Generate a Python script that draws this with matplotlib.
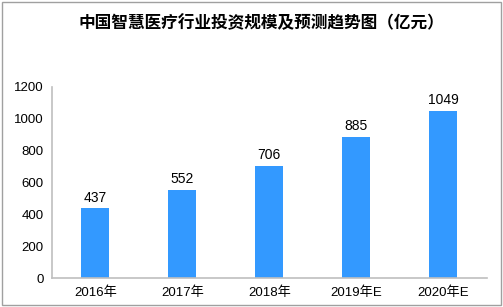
"""China smart healthcare investment bar chart."""
import matplotlib
matplotlib.use("Agg")
import matplotlib.pyplot as plt
from matplotlib.patches import Rectangle

years = ["2016年", "2017年", "2018年", "2019年E", "2020年E"]
invest = [437, 552, 706, 885, 1049]

plt.rcParams["font.family"] = ["Liberation Sans", "Noto Sans CJK SC", "DejaVu Sans"]

fig = plt.figure(figsize=(5.03, 3.07), dpi=100)
ax = fig.add_axes([0.103, 0.094, 0.865, 0.623])

x = range(len(years))
ax.bar(x, invest, width=0.32, color="#3399ff")
for xi, v in zip(x, invest):
    ax.text(xi, v + 25, str(v), ha="center", va="bottom", fontsize=10)

ax.set_xlim(-0.5, len(years) - 0.5)
ax.set_ylim(0, 1200)
ax.set_yticks(range(0, 1201, 200))
ax.set_xticks(list(x))
ax.set_xticklabels(years)
ax.tick_params(length=0, labelsize=9.5, pad=6)
for s in ["top", "right"]:
    ax.spines[s].set_visible(False)
for s in ["left", "bottom"]:
    ax.spines[s].set_color("#bfbfbf")
    ax.spines[s].set_linewidth(1.2)

fig.text(0.519, 0.925, "中国智慧医疗行业投资规模及预测趋势图（亿元）", ha="center", va="center",
         fontsize=12, fontweight="bold", family=["Noto Sans CJK SC", "DejaVu Sans"])

fig.patches.append(Rectangle((0.004, 0.006), 0.992, 0.988, transform=fig.transFigure,
                             fill=False, edgecolor="#a0a0a0", linewidth=1))

plt.savefig("out.png", dpi=100)
plt.close()
